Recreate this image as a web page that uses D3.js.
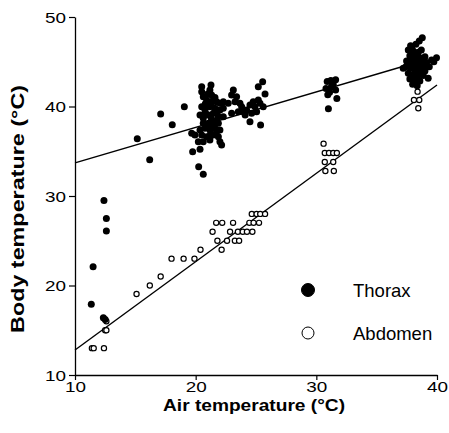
<!DOCTYPE html>
<html>
  <head>
    <meta charset="utf-8">
    <style>
      body { margin: 0; background: #fff; }
      text { font-family: "Liberation Sans", Arial, sans-serif; fill: #000; }
    </style>
  </head>
  <body>
    <script src="https://d3js.org/d3.v7.min.js"></script>
    <script>
      // readings: [air temperature, body temperature]
      var thoraxPoints = [
        [11.35, 17.9], [11.5, 22.1], [12.35, 16.4], [12.5, 16.2], [12.4, 29.5], [12.6, 27.5], [12.6, 26.1],
        [15.16, 36.4], [16.19, 34.06], [17.1, 39.16], [18.06, 37.97], [19.06, 39.98],
        [19.75, 34.95], [20.36, 35.21], [20.25, 33.28], [20.63, 32.42], [19.67, 37.0], [19.94, 36.82],
        [20.5, 42.22], [20.5, 41.66], [21.27, 42.4], [21.18, 41.84], [21.32, 41.28], [20.63, 41.1],
        [20.91, 40.73], [21.46, 40.73], [21.74, 40.54], [22.01, 40.35], [22.29, 40.54], [22.7, 40.35],
        [20.5, 39.98], [20.77, 39.61], [21.18, 39.98], [21.6, 39.8], [22.01, 39.61], [22.29, 39.8],
        [20.36, 39.05], [20.63, 38.68], [21.05, 39.05], [21.46, 39.24], [21.88, 38.86], [22.29, 38.86],
        [20.63, 38.12], [21.05, 38.12], [21.46, 38.31], [21.88, 38.12], [20.36, 37.37], [20.77, 37.56],
        [21.18, 37.37], [21.6, 37.56], [22.01, 37.37], [20.5, 36.82], [20.91, 36.63], [21.46, 36.82],
        [21.88, 36.63], [22.01, 36.07], [22.15, 35.7], [20.63, 36.07], [20.22, 36.07], [21.18, 36.26],
        [21.0, 41.4], [21.3, 40.3], [20.8, 39.3], [21.3, 38.7], [21.7, 38.4], [21.0, 37.8],
        [21.4, 37.9], [21.7, 37.0], [21.2, 36.8], [20.8, 40.3], [21.8, 39.4], [21.6, 41.0],
        [23.12, 41.84], [22.98, 41.28], [23.39, 41.1], [23.26, 40.54], [23.67, 40.35], [23.81, 39.98],
        [23.53, 39.42], [23.95, 39.42], [24.22, 39.61], [24.5, 40.17], [24.77, 40.54], [24.91, 39.98],
        [25.19, 40.73], [25.33, 40.35], [25.6, 39.98], [25.19, 42.22], [25.55, 42.77], [24.5, 38.31],
        [25.38, 37.93], [24.64, 39.24], [25.05, 39.42], [22.98, 39.24], [25.75, 41.4], [24.1, 39.05],
        [30.9, 42.8], [31.6, 43.0], [31.25, 42.2], [30.8, 42.0], [31.6, 41.85], [30.95, 41.3],
        [31.7, 40.9], [31.2, 42.9], [31.1, 41.6], [31.4, 42.5], [31.0, 39.75],
        [38.78, 47.69], [38.53, 47.32], [38.25, 46.95], [37.81, 46.8], [37.62, 46.31], [38.03, 46.2],
        [38.45, 46.05], [37.75, 45.68], [38.17, 45.57], [38.58, 45.46], [39.0, 45.57], [37.48, 45.08],
        [37.89, 45.01], [38.31, 44.93], [38.72, 44.82], [39.14, 44.93], [39.55, 45.2], [39.96, 45.46],
        [39.74, 45.01], [39.36, 44.45], [37.42, 44.45], [37.81, 44.34], [38.25, 44.26], [38.64, 44.19],
        [39.0, 43.97], [37.62, 43.71], [38.03, 43.59], [38.45, 43.52], [38.86, 43.45], [37.75, 43.07],
        [38.17, 42.96], [38.58, 42.85], [37.98, 42.48], [38.36, 42.33], [37.2, 44.26], [39.27, 43.15],
        [38.1, 44.6], [38.5, 44.6], [38.9, 44.5], [38.0, 45.3], [38.4, 45.2], [38.8, 45.1],
        [38.2, 43.9], [38.6, 43.9], [37.9, 46.5], [38.3, 45.9], [38.7, 46.3], [37.6, 44.9]
      ];
      var abdomenPoints = [
        [11.4, 13.0], [11.55, 13.0], [12.4, 13.0], [12.5, 15.0], [12.6, 15.0], [12.6, 16.0],
        [15.1, 19.05], [16.2, 20.0], [17.1, 21.0], [18.0, 23.0], [19.0, 23.0], [19.9, 23.0],
        [20.4, 24.0], [22.15, 24.0],
        [21.8, 25.0], [22.6, 25.0], [23.25, 25.0], [23.6, 25.0],
        [21.4, 26.0], [22.85, 26.0], [23.5, 26.0], [23.9, 26.0], [24.25, 26.0], [24.7, 26.0],
        [21.7, 27.0], [22.2, 27.0], [23.1, 27.0], [24.45, 27.0], [24.8, 27.0], [25.25, 27.0],
        [24.65, 28.0], [25.05, 28.0], [25.35, 28.0], [25.75, 28.0],
        [30.6, 35.85], [30.7, 34.8], [31.05, 34.8], [31.4, 34.8], [31.7, 34.8],
        [30.7, 33.8], [31.4, 33.8], [30.75, 32.8], [31.45, 32.8],
        [38.39, 41.66], [38.09, 40.73], [38.53, 40.73], [38.45, 39.8]
      ];
      // fitted regression lines, end points
      var thoraxFit = [[10, 33.7], [38.5, 45.0]];
      var abdomenFit = [[10, 12.8], [40, 42.4]];
      var xTicks = [10, 20, 30, 40];
      var yTicks = [10, 20, 30, 40, 50];
      var legendItems = ["Thorax", "Abdomen"];

      var w = 449, h = 433;
      var plotLeft = 75, plotTop = 17, plotRight = 437, plotBottom = 375;

      var svg = d3.select("body").append("svg")
        .attr("width", w)
        .attr("height", h);

      var x = d3.scaleLinear().domain([10, 40]).range([plotLeft, plotRight]);
      var y = d3.scaleLinear().domain([10, 50]).range([plotBottom, plotTop]);

      // axes
      var xAxis = svg.append("g")
        .attr("transform", "translate(0," + plotBottom + ")")
        .call(d3.axisBottom(x).tickValues(xTicks).tickSize(5).tickSizeOuter(0).tickPadding(1));
      var yAxis = svg.append("g")
        .attr("transform", "translate(" + plotLeft + ",0)")
        .call(d3.axisLeft(y).tickValues(yTicks).tickSize(6).tickSizeOuter(0).tickPadding(3));

      [xAxis, yAxis].forEach(function(g) {
        g.select(".domain").attr("stroke", "#000").attr("stroke-width", 1.3);
        g.selectAll(".tick line").attr("stroke", "#000").attr("stroke-width", 1.2);
        g.selectAll(".tick text")
          .attr("font-size", 15)
          .attr("textLength", 21)
          .attr("lengthAdjust", "spacingAndGlyphs");
      });
      yAxis.selectAll(".tick text").attr("dy", "0.36em");

      // axis titles
      svg.append("text")
        .attr("x", (plotLeft + plotRight) / 2 - 2)
        .attr("y", 411)
        .attr("text-anchor", "middle")
        .attr("font-weight", "bold")
        .attr("font-size", 17)
        .attr("textLength", 182)
        .attr("lengthAdjust", "spacingAndGlyphs")
        .text("Air temperature (°C)");

      svg.append("text")
        .attr("transform", "translate(24,209) rotate(-90)")
        .attr("text-anchor", "middle")
        .attr("font-weight", "bold")
        .attr("font-size", 18)
        .attr("textLength", 248)
        .attr("lengthAdjust", "spacingAndGlyphs")
        .text("Body temperature (°C)");

      // regression lines
      var line = d3.line()
        .x(function(d) { return x(d[0]); })
        .y(function(d) { return y(d[1]); });

      [thoraxFit, abdomenFit].forEach(function(fit) {
        svg.append("path")
          .attr("d", line(fit))
          .attr("fill", "none")
          .attr("stroke", "#000")
          .attr("stroke-width", 1.4);
      });

      // points
      svg.append("g").selectAll("circle")
        .data(abdomenPoints)
        .enter()
        .append("circle")
        .attr("cx", function(d) { return x(d[0]); })
        .attr("cy", function(d) { return y(d[1]); })
        .attr("r", 2.6)
        .attr("fill", "#fff")
        .attr("stroke", "#000")
        .attr("stroke-width", 1.2);

      svg.append("g").selectAll("circle")
        .data(thoraxPoints)
        .enter()
        .append("circle")
        .attr("cx", function(d) { return x(d[0]); })
        .attr("cy", function(d) { return y(d[1]); })
        .attr("r", 3.5)
        .attr("fill", "#000");

      // legend
      var legend = svg.append("g");
      legend.selectAll("circle")
        .data(legendItems)
        .enter()
        .append("circle")
        .attr("cx", 308)
        .attr("cy", function(d, i) { return 290 + i * 43; })
        .attr("r", function(d, i) { return i == 0 ? 6.5 : 6; })
        .attr("fill", function(d, i) { return i == 0 ? "#000" : "#fff"; })
        .attr("stroke", "#000")
        .attr("stroke-width", 1);
      legend.selectAll("text")
        .data(legendItems)
        .enter()
        .append("text")
        .attr("x", 353)
        .attr("y", function(d, i) { return 297 + i * 43; })
        .attr("font-size", 18.5)
        .text(function(d) { return d; });
    </script>
  </body>
</html>
